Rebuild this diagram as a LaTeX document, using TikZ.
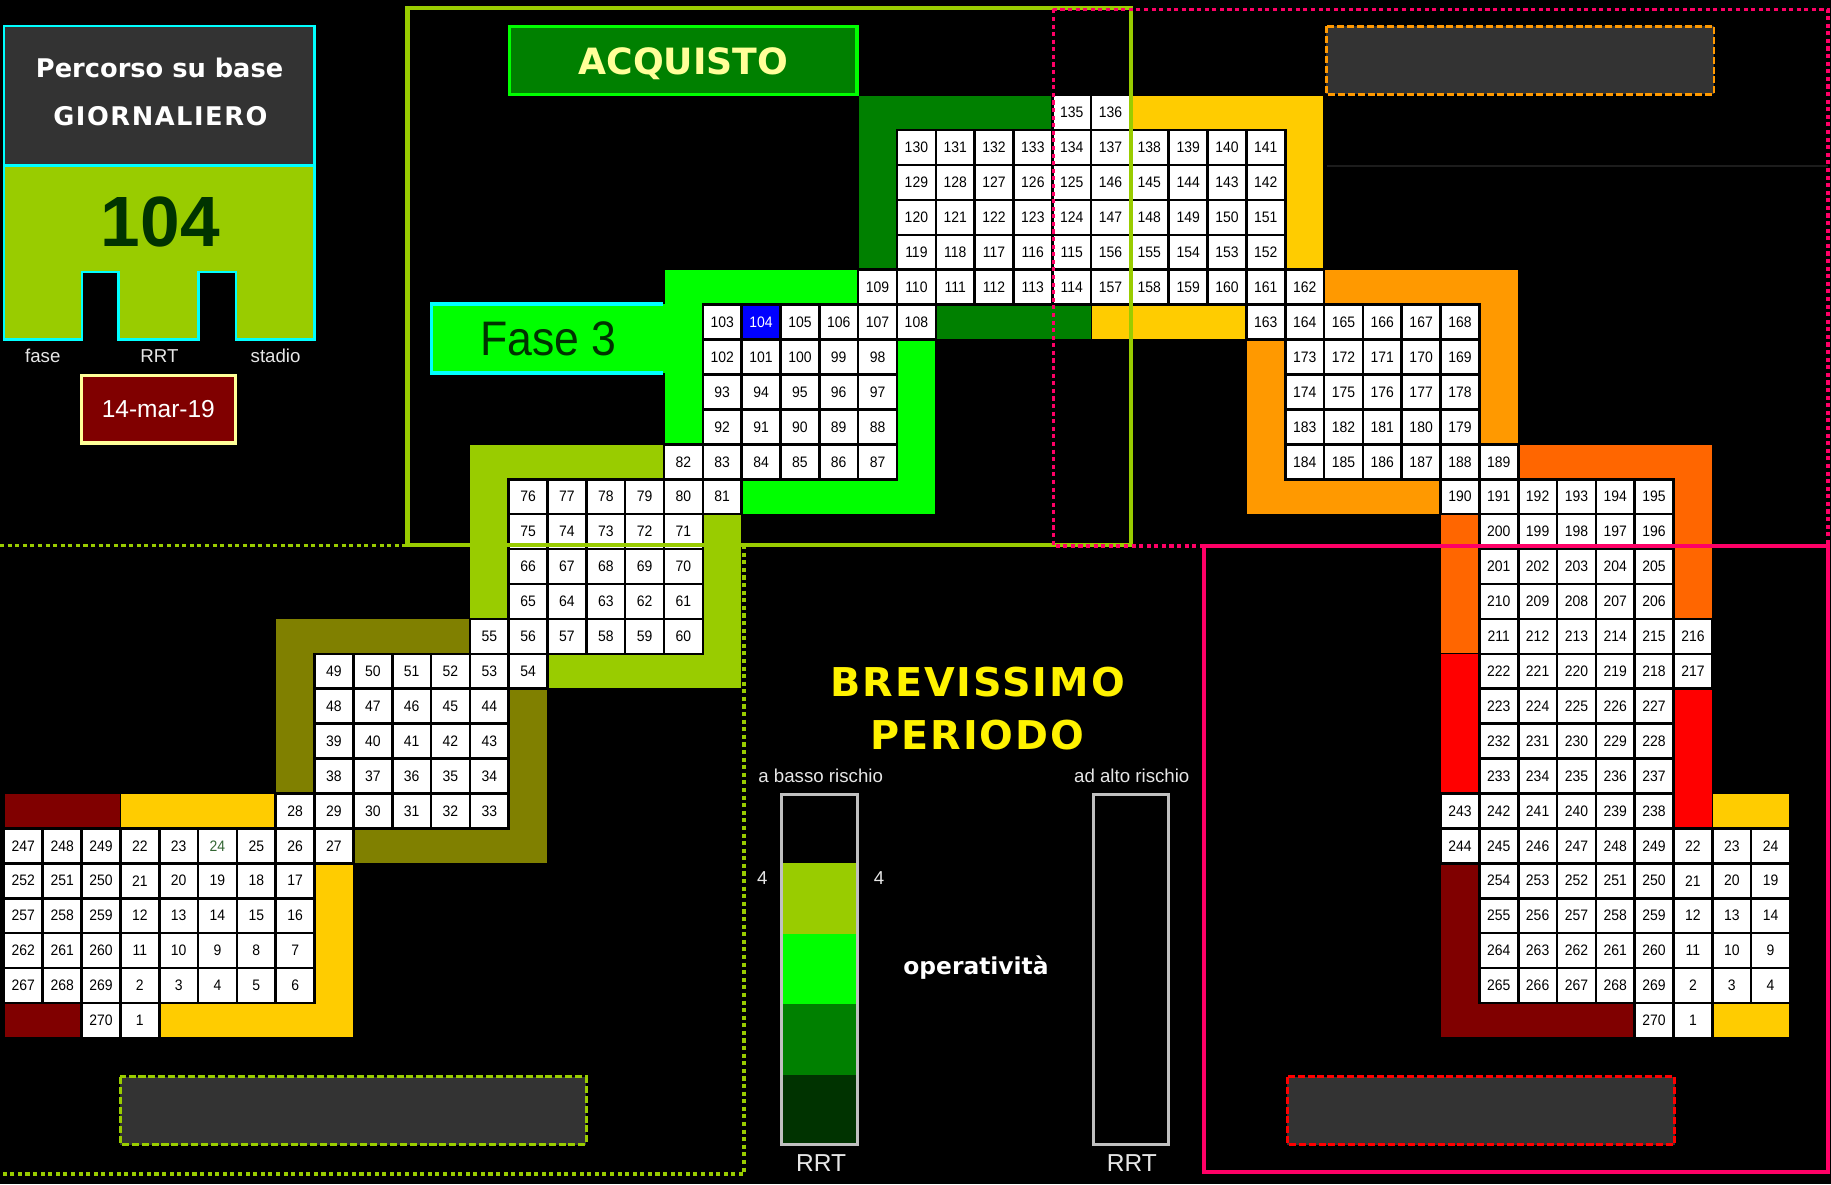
\documentclass[tikz,border=0pt]{standalone}
\usepackage{fontspec}
\setmainfont{Liberation Sans}
\newfontfamily\headfont{DejaVu Sans}
\newfontfamily\narrowfont[FakeStretch=0.92]{Liberation Sans}

\definecolor{cYGreen}{HTML}{99CC00}
\definecolor{cLime}{HTML}{00FF00}
\definecolor{cDkGreen}{HTML}{008000}
\definecolor{cDeep}{HTML}{003300}
\definecolor{cGold}{HTML}{FFCC00}
\definecolor{cOrange}{HTML}{FF9900}
\definecolor{cDkOrange}{HTML}{FF6600}
\definecolor{cMaroon}{HTML}{800000}
\definecolor{cOlive}{HTML}{808000}
\definecolor{cPink}{HTML}{FF0066}
\definecolor{cPanel}{HTML}{333333}
\definecolor{cCream}{HTML}{FFFF99}
\definecolor{cCyan}{HTML}{00FFFF}
\definecolor{cSilver}{HTML}{C0C0C0}
\definecolor{cLight}{HTML}{E6E6E6}
\definecolor{cFaint}{HTML}{1C1C1C}
\definecolor{cLeaf}{HTML}{336633}

% one row of numbered cells: row, first column, labels
\newcommand\cellrow[3]{%
  \foreach \lbl [count=\col from #2] in {#3}
    {\node[cell] (c\col-#1) at (\col+0.5,#1+0.5) {\lbl};}}

\begin{document}
\begin{tikzpicture}[x=1pt,y=-1pt,
  cell/.style={draw=black,line width=2.2pt,fill=white,minimum width=33.25pt,
    minimum height=29.9pt,inner sep=0pt,text=black,
    font=\narrowfont\fontsize{13}{13}\selectfont},
  band/.style={draw=black,line width=1pt},
  dashbox/.style={fill=cPanel,line width=2.5pt,dash pattern=on 6pt off 2.5pt},
  frame/.style={line width=3.5pt},
  dotframe/.style={line width=3pt,dash pattern=on 3.5pt off 3pt},
  txt/.style={anchor=base,inner sep=0pt,text=cLight,font=\fontsize{16}{16}\selectfont},
  head/.style={anchor=base,inner sep=0pt,font=\headfont\bfseries\fontsize{#1}{#1}\selectfont},
  spaced/.style 2 args={anchor=base,inner sep=0pt,
    font=\headfont\bfseries\fontsize{#1}{#1}\selectfont\addfontfeatures{LetterSpace=#2}}]

\useasboundingbox (0,0) rectangle (1568,1014);
\fill[black] (0,0) rectangle (1568,1014);
\draw[cFaint,line width=1pt] (1136.4,142.2) -- (1565,142.2);

% info panel
\filldraw[fill=cPanel,draw=cCyan,line width=2.3pt] (3.3,22.4) rectangle (269.3,142);
\filldraw[fill=cYGreen,draw=cCyan,line width=2.3pt] (3.3,142) -- (269.3,142) -- (269.3,290.7)
  -- (202.1,290.7) -- (202.1,233) -- (170.1,233) -- (170.1,290.7) -- (101.6,290.7)
  -- (101.6,233) -- (70.2,233) -- (70.2,290.7) -- (3.3,290.7) -- cycle;
\node[head=22,text=white] (perc) at (136.7,66.2) {Percorso su base};
\node[spaced={22}{6},text=white] (giorn) at (137.4,107.9) {GIORNALIERO};
\node[anchor=base,inner sep=0pt,text=cDeep,font=\bfseries\fontsize{61}{61}\selectfont] (big) at (137.3,210.8) {104};
\node[txt] (lfase) at (36.6,310.6) {fase};
\node[txt] (lrrt) at (136.5,310.6) {RRT};
\node[txt] (lstadio) at (236,310.6) {stadio};
\node[draw=cCream,fill=cMaroon,line width=3pt,minimum width=132pt,minimum height=58pt,
  inner sep=0pt,text depth=0pt,text=white,font=\fontsize{21}{21}\selectfont] (date) at (135.6,350.5) {14-mar-19};

% path of cells
\begin{scope}[x=33.25pt,y=-29.9pt,shift={(3.375pt,-81.5pt)}]
  \filldraw[band,fill=cDkGreen] (22,0) -- (27,0) -- (27,1) -- (23,1) -- (23,5) -- (22,5) -- cycle;
  \filldraw[band,fill=cDkGreen] (24,6) rectangle (28,7);
  \filldraw[band,fill=cGold] (29,0) -- (34,0) -- (34,5) -- (33,5) -- (33,1) -- (29,1) -- cycle;
  \filldraw[band,fill=cGold] (28,6) rectangle (32,7);
  \filldraw[band,fill=cOrange] (34,5) -- (39,5) -- (39,10) -- (38,10) -- (38,6) -- (34,6) -- cycle;
  \filldraw[band,fill=cOrange] (32,7) -- (33,7) -- (33,11) -- (37,11) -- (37,12) -- (32,12) -- cycle;
  \filldraw[band,fill=cDkOrange] (39,10) -- (44,10) -- (44,15) -- (43,15) -- (43,11) -- (39,11) -- cycle;
  \filldraw[band,fill=cDkOrange] (37,12) rectangle (38,16);
  \filldraw[band,fill=red] (37,16) rectangle (38,20);
  \filldraw[band,fill=red] (43,17) rectangle (44,21);
  \filldraw[band,fill=cMaroon] (37,22) -- (38,22) -- (38,26) -- (42,26) -- (42,27) -- (37,27) -- cycle;
  \filldraw[band,fill=cGold] (44,20) rectangle (46,21);
  \filldraw[band,fill=cGold] (44,26) rectangle (46,27);
  \filldraw[band,fill=cLime] (17,5) -- (22,5) -- (22,6) -- (18,6) -- (18,10) -- (17,10) -- cycle;
  \filldraw[band,fill=cLime] (23,7) -- (24,7) -- (24,12) -- (19,12) -- (19,11) -- (23,11) -- cycle;
  \filldraw[band,fill=cYGreen] (12,10) -- (17,10) -- (17,11) -- (13,11) -- (13,15) -- (12,15) -- cycle;
  \filldraw[band,fill=cYGreen] (18,12) -- (19,12) -- (19,17) -- (14,17) -- (14,16) -- (18,16) -- cycle;
  \filldraw[band,fill=cOlive] (7,15) -- (12,15) -- (12,16) -- (8,16) -- (8,20) -- (7,20) -- cycle;
  \filldraw[band,fill=cOlive] (13,17) -- (14,17) -- (14,22) -- (9,22) -- (9,21) -- (13,21) -- cycle;
  \filldraw[band,fill=cMaroon] (0,20) rectangle (3,21);
  \filldraw[band,fill=cMaroon] (0,26) rectangle (2,27);
  \filldraw[band,fill=cGold] (3,20) rectangle (7,21);
  \filldraw[band,fill=cGold] (8,22) -- (9,22) -- (9,27) -- (4,27) -- (4,26) -- (8,26) -- cycle;

  \cellrow{0}{27}{135,136}
  \cellrow{1}{23}{130,131,132,133,134,137,138,139,140,141}
  \cellrow{2}{23}{129,128,127,126,125,146,145,144,143,142}
  \cellrow{3}{23}{120,121,122,123,124,147,148,149,150,151}
  \cellrow{4}{23}{119,118,117,116,115,156,155,154,153,152}
  \cellrow{5}{22}{109,110,111,112,113,114,157,158,159,160,161,162}
  \cellrow{6}{18}{103}
  \node[cell,fill=blue,text=white] (c19-6) at (19.5,6.5) {104};
  \cellrow{6}{20}{105,106,107,108}
  \cellrow{6}{32}{163,164,165,166,167,168}
  \cellrow{7}{18}{102,101,100,99,98}
  \cellrow{7}{33}{173,172,171,170,169}
  \cellrow{8}{18}{93,94,95,96,97}
  \cellrow{8}{33}{174,175,176,177,178}
  \cellrow{9}{18}{92,91,90,89,88}
  \cellrow{9}{33}{183,182,181,180,179}
  \cellrow{10}{17}{82,83,84,85,86,87}
  \cellrow{10}{33}{184,185,186,187,188,189}
  \cellrow{11}{13}{76,77,78,79,80,81}
  \cellrow{11}{37}{190,191,192,193,194,195}
  \cellrow{12}{13}{75,74,73,72,71}
  \cellrow{12}{38}{200,199,198,197,196}
  \cellrow{13}{13}{66,67,68,69,70}
  \cellrow{13}{38}{201,202,203,204,205}
  \cellrow{14}{13}{65,64,63,62,61}
  \cellrow{14}{38}{210,209,208,207,206}
  \cellrow{15}{12}{55,56,57,58,59,60}
  \cellrow{15}{38}{211,212,213,214,215,216}
  \cellrow{16}{8}{49,50,51,52,53,54}
  \cellrow{16}{38}{222,221,220,219,218,217}
  \cellrow{17}{8}{48,47,46,45,44}
  \cellrow{17}{38}{223,224,225,226,227}
  \cellrow{18}{8}{39,40,41,42,43}
  \cellrow{18}{38}{232,231,230,229,228}
  \cellrow{19}{8}{38,37,36,35,34}
  \cellrow{19}{38}{233,234,235,236,237}
  \cellrow{20}{7}{28,29,30,31,32,33}
  \cellrow{20}{37}{243,242,241,240,239,238}
  \cellrow{21}{0}{247,248,249,22,23}
  \node[cell,text=cLeaf] (c5-21) at (5.5,21.5) {24};
  \cellrow{21}{6}{25,26,27}
  \cellrow{21}{37}{244,245,246,247,248,249,22,23,24}
  \cellrow{22}{0}{252,251,250,21,20,19,18,17}
  \cellrow{22}{38}{254,253,252,251,250,21,20,19}
  \cellrow{23}{0}{257,258,259,12,13,14,15,16}
  \cellrow{23}{38}{255,256,257,258,259,12,13,14}
  \cellrow{24}{0}{262,261,260,11,10,9,8,7}
  \cellrow{24}{38}{264,263,262,261,260,11,10,9}
  \cellrow{25}{0}{267,268,269,2,3,4,5,6}
  \cellrow{25}{38}{265,266,267,268,269,2,3,4}
  \cellrow{26}{2}{270,1}
  \cellrow{26}{42}{270,1}
\end{scope}

% phase label and title
\node[fill=cLime,minimum width=200.3pt,minimum height=58.7pt,inner sep=0pt,text depth=0pt,
  text=cDeep,font=\narrowfont\fontsize{41.5}{41.5}\selectfont] (fase3) at (469.85,290) {Fase 3};
\draw[cCyan,line width=3pt] ([xshift=-2.5pt]fase3.north east) -- (fase3.north west)
  -- (fase3.south west) -- ([xshift=-2.5pt]fase3.south east);
\node[draw=cLime,fill=cDkGreen,line width=3pt,minimum width=297.6pt,minimum height=58.2pt,
  inner sep=0pt,text depth=0pt,text=cCream,font=\headfont\bfseries\fontsize{31}{31}\selectfont] (acq) at (585.3,52) {ACQUISTO};

% empty boxes
\draw[dashbox,draw=cOrange] (1135.8,22.6) rectangle (1467.8,80.8);
\draw[dashbox,draw=cYGreen] (102.9,922.1) rectangle (501.9,980.2);
\draw[dashbox,draw=red] (1102.2,922.1) rectangle (1434.1,980.2);

% frames
\draw[dotframe,draw=cYGreen] (0,467) -- (637.2,467) -- (637.2,1005.4) -- (0,1005.4);
\draw[frame,draw=cYGreen] (349,6.6) rectangle (968.5,467);
\draw[dotframe,draw=cPink] (902,8) rectangle (1565.3,467.5);
\draw[frame,draw=cPink] (1031,467.3) rectangle (1565.5,1003.7);

% legend
\node[spaced={34}{5},text=yellow] (brev) at (837.2,596.2) {BREVISSIMO};
\node[spaced={34}{5},text=yellow] (peri) at (837.0,641.7) {PERIODO};
\node[txt] (lowrisk) at (702.8,670.2) {a basso rischio};
\node[txt] (highrisk) at (969.2,670.2) {ad alto rischio};
\foreach \shade [count=\k from 1] in {cYGreen,cLime,cDkGreen,cDeep}
  \fill[\shade] (668,679+60.4*\k) rectangle (735.6,739.4+60.4*\k);
\node[draw=cSilver,line width=2.5pt,minimum width=65.1pt,minimum height=299.6pt,inner sep=0pt] (lowbar) at (701.8,830) {};
\node[draw=cSilver,line width=2.5pt,minimum width=64.1pt,minimum height=299.6pt,inner sep=0pt] (highbar) at (968.7,830) {};
\node[txt] (lowleft) at (652.8,757.6) {4};
\node[txt] (lowright) at (752.8,757.6) {4};
\node[head=20,text=white] (oper) at (835.8,834.8) {operatività};
\node[txt,font=\fontsize{21}{21}\selectfont] (lowrrt) at (703.1,1003.1) {RRT};
\node[txt,font=\fontsize{21}{21}\selectfont] (highrrt) at (969.2,1003.1) {RRT};
\end{tikzpicture}
\end{document}
